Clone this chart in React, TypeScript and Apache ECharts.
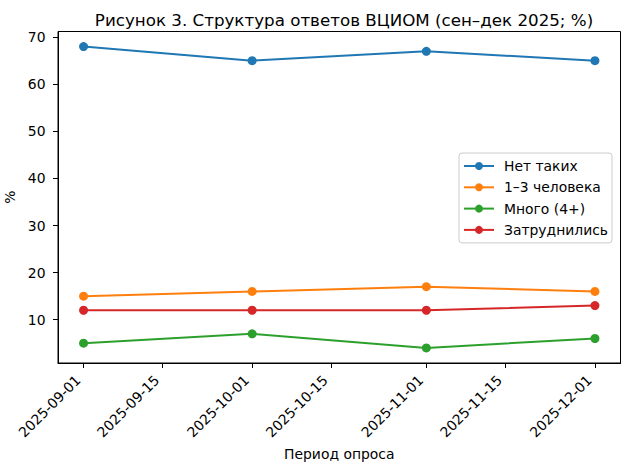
import React, { useEffect, useRef } from "react";
import * as echarts from "echarts";

const dates = ["2025-09-01", "2025-10-01", "2025-11-01", "2025-12-01"];
const seriesNames = ["Нет таких", "1–3 человека", "Много (4+)", "Затруднились"];
const netTakih = [68, 65, 67, 65];
const odinTri = [15, 16, 17, 16];
const mnogo = [5, 7, 4, 6];
const zatrud = [12, 12, 12, 13];
const xTickLabels = ["2025-09-01", "2025-09-15", "2025-10-01", "2025-10-15", "2025-11-01", "2025-11-15", "2025-12-01"];
const yTicks = [10, 20, 30, 40, 50, 60, 70];
const colors = ["#1f77b4", "#ff7f0e", "#2ca02c", "#d62728"];

const ts = (d: string) => Date.parse(d + "T00:00:00Z");
const pad2 = (n: number) => (n < 10 ? "0" + n : "" + n);
const fmt = (v: number) => {
  const d = new Date(v);
  return d.getUTCFullYear() + "-" + pad2(d.getUTCMonth() + 1) + "-" + pad2(d.getUTCDate());
};

export default function App() {
  const ref = useRef<HTMLDivElement>(null);
  useEffect(() => {
    document.body.style.margin = "0";
    if (!ref.current) return;
    const chart = echarts.init(ref.current, null, { renderer: "svg" });
    const allVals = [...netTakih, ...odinTri, ...mnogo, ...zatrud];
    const yMinD = Math.min(...allVals);
    const yMaxD = Math.max(...allVals);
    const yPad = (yMaxD - yMinD) * 0.05;
    const x0 = ts(dates[0]);
    const x1 = ts(dates[dates.length - 1]);
    const xPad = (x1 - x0) * 0.05;
    const xTicks = xTickLabels.map(ts);
    const font = "DejaVu Sans";
    const data = [netTakih, odinTri, mnogo, zatrud];
    chart.setOption({
      animation: false,
      backgroundColor: "#ffffff",
      textStyle: { fontFamily: font },
      title: {
        text: "Рисунок 3. Структура ответов ВЦИОМ (сен–дек 2025; %)",
        left: 339,
        top: 6,
        textAlign: "center",
        textStyle: { fontFamily: font, fontSize: 16.7, fontWeight: "normal", color: "#000" },
      },
      grid: {
        left: 58,
        right: 9.5,
        top: 31.5,
        bottom: 106,
        containLabel: false,
        outerBoundsMode: "none",
        show: true,
        borderColor: "#000",
        borderWidth: 1,
        backgroundColor: "transparent",
      },
      legend: {
        orient: "vertical",
        left: 459,
        top: 153,
        padding: [6, 4, 6, 4],
        itemWidth: 30,
        itemHeight: 10,
        itemGap: 7.3,
        backgroundColor: "rgba(255,255,255,0.8)",
        borderColor: "#cccccc",
        borderWidth: 1,
        borderRadius: 3,
        textStyle: { fontFamily: font, fontSize: 13.9, color: "#000", lineHeight: 14, padding: [0, 0, 0, 5] },
        data: seriesNames,
      },
      xAxis: {
        type: "value",
        min: x0 - xPad,
        max: x1 + xPad,
        name: "Период опроса",
        nameLocation: "middle",
        nameGap: 84,
        nameTextStyle: { fontFamily: font, fontSize: 13.9, color: "#000" },
        axisLine: { show: true, lineStyle: { color: "#000", width: 1 } },
        axisTick: { show: true, length: 5, lineStyle: { color: "#000" }, customValues: xTicks },
        axisLabel: {
          customValues: xTicks,
          rotate: 45,
          margin: 9,
          padding: [0, 8, 0, 0],
          fontFamily: font,
          fontSize: 13.9,
          color: "#000",
          formatter: (v: number) => fmt(v),
        },
        splitLine: { show: false },
      },
      yAxis: {
        type: "value",
        min: yMinD - yPad,
        max: yMaxD + yPad,
        name: "%",
        nameLocation: "middle",
        nameGap: 35,
        nameRotate: 90,
        nameTextStyle: { fontFamily: font, fontSize: 13.9, color: "#000" },
        axisLine: { show: true, lineStyle: { color: "#000", width: 1 } },
        axisTick: { show: true, length: 5, lineStyle: { color: "#000" }, customValues: yTicks },
        axisLabel: {
          customValues: yTicks,
          margin: 12.5,
          fontFamily: font,
          fontSize: 13.9,
          color: "#000",
        },
        splitLine: { show: false },
      },
      series: seriesNames.map((name, i) => ({
        name,
        type: "line",
        data: dates.map((d, j) => [ts(d), data[i][j]]),
        symbol: "circle",
        symbolSize: 9,
        color: colors[i],
        lineStyle: { width: 2, color: colors[i] },
        itemStyle: { color: colors[i] },
      })),
    });
    return () => chart.dispose();
  }, []);
  return <div ref={ref} style={{ width: 630, height: 469 }} />;
}
